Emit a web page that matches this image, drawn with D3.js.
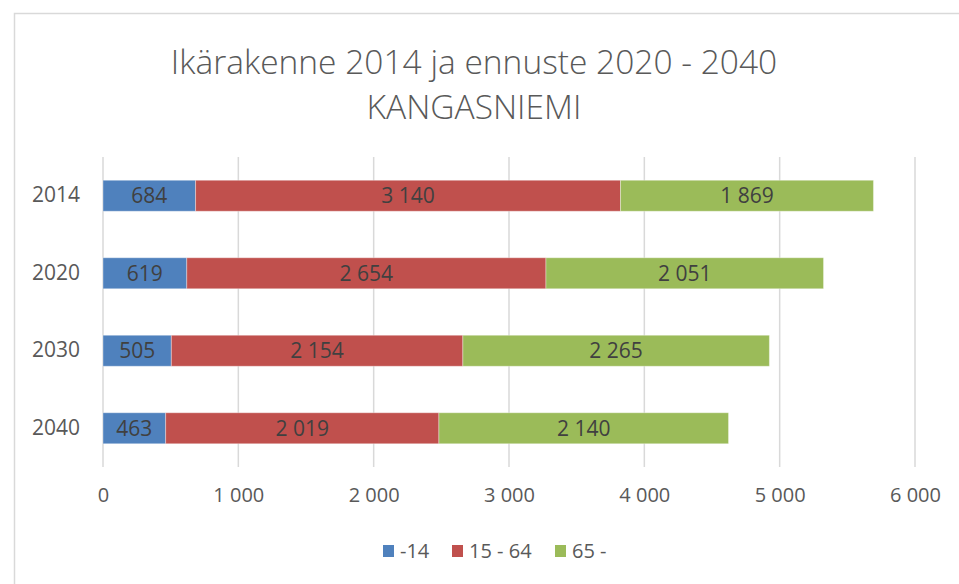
<!DOCTYPE html>
<html>
<head>
<meta charset="utf-8">
<script src="https://cdn.jsdelivr.net/npm/d3@7"></script>
<style>
  body { margin: 0; background: #fff; }
  text { font-family: "Open Sans", sans-serif; }
</style>
</head>
<body>
<div id="chart"></div>
<script>
// data
const years = ["2014", "2020", "2030", "2040"];
const groups = ["-14", "15 - 64", "65 -"];
const young = [684, 619, 505, 463];
const working = [3140, 2654, 2154, 2019];
const old = [1869, 2051, 2265, 2140];
const xTicks = [0, 1000, 2000, 3000, 4000, 5000, 6000];
const colors = ["#4F81BD", "#C0504D", "#9BBB59"];

const width = 959;
const height = 584;

const fi = d3.formatLocale({ decimal: ",", thousands: "\u00a0", grouping: [3], currency: ["", " €"] });
const fmt = fi.format(",d");

const rows = years.map((y, i) => ({ year: y, "-14": young[i], "15 - 64": working[i], "65 -": old[i] }));
const series = d3.stack().keys(groups)(rows);

const svg = d3.select("#chart").append("svg").attr("width", width).attr("height", height);

// chart frame (only top/left visible)
svg.append("rect")
  .attr("x", 14.5).attr("y", 13.5)
  .attr("width", 1000).attr("height", 700)
  .attr("fill", "none").attr("stroke", "#D9D9D9").attr("stroke-width", 1.5);

// title
const title = svg.append("text")
  .attr("text-anchor", "middle")
  .attr("fill", "#595959")
  .style("font-size", "33.5px")
  .style("font-weight", 300);
title.append("tspan").attr("x", 474).attr("y", 74).text("Ikärakenne 2014 ja ennuste 2020 - 2040");
title.append("tspan").attr("x", 474).attr("y", 119).text("KANGASNIEMI");

const x = d3.scaleLinear().domain([0, 6000]).range([103, 915]);
const y = d3.scaleBand().domain(years).range([157, 467]).paddingInner(0.6).paddingOuter(0.3);

// gridlines
svg.append("g")
  .selectAll("line")
  .data(xTicks)
  .join("line")
  .attr("x1", d => x(d)).attr("x2", d => x(d))
  .attr("y1", 157).attr("y2", 467)
  .attr("stroke", "#D9D9D9").attr("stroke-width", 1.5);

// x axis labels
const xAxis = svg.append("g")
  .attr("transform", "translate(0,467)")
  .call(d3.axisBottom(x).tickValues(xTicks).tickFormat(fmt).tickSize(0).tickPadding(21));
xAxis.select(".domain").remove();
xAxis.selectAll("text").attr("fill", "#595959").style("font-size", "20px").style("font-family", "'Open Sans', sans-serif");

// y axis labels
const yAxis = svg.append("g")
  .attr("transform", "translate(80,0)")
  .call(d3.axisLeft(y).tickSize(0).tickPadding(0));
yAxis.select(".domain").remove();
yAxis.selectAll("text").attr("fill", "#595959").style("font-size", "21px").style("font-family", "'Open Sans', sans-serif");

// bars
const layer = svg.append("g")
  .selectAll("g")
  .data(series)
  .join("g")
  .attr("fill", (d, i) => colors[i]);

layer.selectAll("rect")
  .data(d => d)
  .join("rect")
  .attr("x", d => x(d[0]))
  .attr("y", d => y(d.data.year))
  .attr("width", d => x(d[1]) - x(d[0]))
  .attr("height", y.bandwidth())
  .attr("stroke", "#fff").attr("stroke-opacity", 0.35).attr("stroke-width", 1);

layer.selectAll("text")
  .data(d => d)
  .join("text")
  .attr("x", d => (x(d[0]) + x(d[1])) / 2)
  .attr("y", d => y(d.data.year) + y.bandwidth() / 2)
  .attr("dy", "0.36em")
  .attr("text-anchor", "middle")
  .attr("fill", "#404040")
  .style("font-size", "21px")
  .text(d => fmt(d[1] - d[0]));

// legend
const legendX = [383, 452, 555];
const legend = svg.append("g")
  .selectAll("g")
  .data(groups)
  .join("g")
  .attr("transform", (d, i) => `translate(${legendX[i]},551)`);
legend.append("rect")
  .attr("x", 0).attr("y", -6)
  .attr("width", 11).attr("height", 12)
  .attr("fill", (d, i) => colors[i]);
legend.append("text")
  .attr("x", 17).attr("dy", "0.35em")
  .attr("fill", "#595959")
  .style("font-size", "20px")
  .text(d => d);
</script>
</body>
</html>
